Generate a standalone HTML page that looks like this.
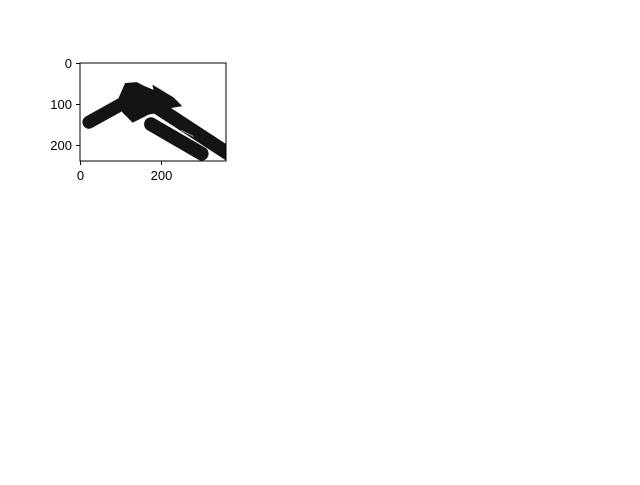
<!DOCTYPE html>
<html><head><meta charset="utf-8"><style>
body{margin:0;background:#fff;}
text{font-family:"Liberation Sans","DejaVu Sans",sans-serif;font-size:13px;fill:#000;}
</style></head><body>
<svg width="640" height="480">
<rect width="640" height="480" fill="#fff"/>
<svg x="80" y="63" width="146" height="98" viewBox="0 0 360 240" preserveAspectRatio="none">
<rect width="360" height="240" fill="#fff"/>
<g stroke="#141414" stroke-linecap="round" fill="#141414">
<line x1="22" y1="145" x2="100" y2="102" stroke-width="32"/>
<line x1="185" y1="105" x2="370" y2="225" stroke-width="34"/>
<line x1="175" y1="150" x2="300" y2="222" stroke-width="34"/>
<polygon points="92,95 112,50 140,48 160,58 200,75 225,100 200,120 170,125 130,145 105,120" stroke-width="2"/>
<polygon points="180,55 230,85 250,105 220,110 185,80" stroke-width="2"/>
</g>
<line x1="250" y1="165" x2="280" y2="180" stroke="#888" stroke-width="3"/>
</svg>
<rect x="80" y="63" width="146" height="98" fill="none" stroke="#000" stroke-width="1"/>
<g stroke="#000">
<line x1="80.5" y1="161" x2="80.5" y2="165"/><line x1="161.5" y1="161" x2="161.5" y2="165"/>
</g>
<text x="80.5" y="180" text-anchor="middle">0</text>
<text x="161.5" y="180" text-anchor="middle">200</text>
<g stroke="#000">
<line x1="76" y1="63.5" x2="80" y2="63.5"/><line x1="76" y1="104.5" x2="80" y2="104.5"/><line x1="76" y1="145.5" x2="80" y2="145.5"/>
</g>
<text x="72" y="68" text-anchor="end">0</text>
<text x="72" y="109" text-anchor="end">100</text>
<text x="72" y="150" text-anchor="end">200</text>
</svg>
</body></html>
